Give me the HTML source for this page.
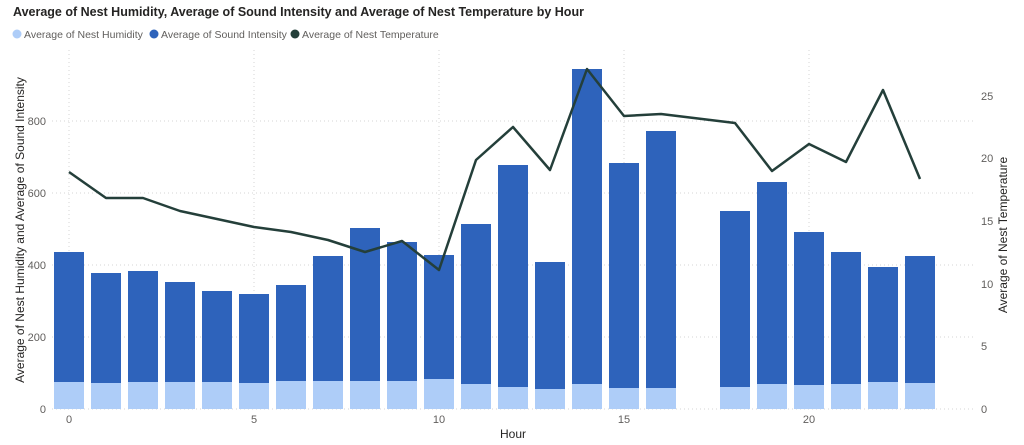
<!DOCTYPE html>
<html><head><meta charset="utf-8"><style>
body{margin:0;background:#fff;}
svg{display:block;font-family:"Liberation Sans",sans-serif;}
</style></head><body>
<svg width="1024" height="445" viewBox="0 0 1024 445">
<rect width="1024" height="445" fill="#fff"/>
<text x="13" y="16" font-size="12.5" font-weight="bold" fill="#252423">Average of Nest Humidity, Average of Sound Intensity and Average of Nest Temperature by Hour</text>
<g font-size="10.5" fill="#605e5c">
<circle cx="17" cy="34" r="4.5" fill="#aecdf8"/><text x="24" y="38">Average of Nest Humidity</text>
<circle cx="154" cy="34" r="4.5" fill="#2e63bb"/><text x="161" y="38">Average of Sound Intensity</text>
<circle cx="295" cy="34" r="4.5" fill="#243f3a"/><text x="302" y="38">Average of Nest Temperature</text>
</g>
<g stroke="#d6d6d6" stroke-dasharray="1,3" stroke-width="1">
<line x1="52" y1="121" x2="973" y2="121"/><line x1="52" y1="193" x2="973" y2="193"/>
<line x1="52" y1="265" x2="973" y2="265"/><line x1="52" y1="337" x2="973" y2="337"/>
<line x1="52" y1="409" x2="973" y2="409"/>
<line x1="69" y1="50" x2="69" y2="409"/><line x1="254" y1="50" x2="254" y2="409"/>
<line x1="439" y1="50" x2="439" y2="409"/><line x1="624" y1="50" x2="624" y2="409"/>
<line x1="809" y1="50" x2="809" y2="409"/>
</g>
<g id="bars"></g>
<g font-size="11" fill="#605e5c" text-anchor="end">
<text x="46" y="413">0</text><text x="46" y="341">200</text><text x="46" y="269">400</text><text x="46" y="197">600</text><text x="46" y="125">800</text>
</g>
<g font-size="11" fill="#605e5c">
<text x="981" y="413">0</text><text x="981" y="350">5</text><text x="981" y="288">10</text><text x="981" y="225">15</text><text x="981" y="162">20</text><text x="981" y="100">25</text>
</g>
<g font-size="11" fill="#605e5c" text-anchor="middle">
<text x="69" y="423">0</text><text x="254" y="423">5</text><text x="439" y="423">10</text><text x="624" y="423">15</text><text x="809" y="423">20</text>
</g>
<text x="513" y="438" font-size="12" fill="#252423" text-anchor="middle">Hour</text>
<text transform="translate(24,230) rotate(-90)" font-size="12" fill="#252423" text-anchor="middle">Average of Nest Humidity and Average of Sound Intensity</text>
<text transform="translate(1007,235) rotate(-90)" font-size="12" fill="#252423" text-anchor="middle">Average of Nest Temperature</text>
<polyline id="ln" fill="none" stroke="#243f3a" stroke-width="2.5" stroke-linejoin="round"/>
</svg>
<script>
var tops=[252,273,271,282,291,294,285,256,228,242,255,224,165,262,69,163,131,null,211,182,232,252,267,256];
var lt=[382,383,382,382,382,383,381,381,381,381,379,384,387,389,384,388,388,null,387,384,385,384,382,383];
var ly=[172,198,198,211,219,227,232,240,252,241,270,160,127,170,69,116,114,null,123,171,144,162,90,179];
var g=document.getElementById('bars'),s='',pts=[];
for(var h=0;h<24;h++){var x=54+37*h;
if(tops[h]!==null){s+='<rect x="'+x+'" y="'+tops[h]+'" width="30" height="'+(lt[h]-tops[h])+'" fill="#2e63bb"/>';
s+='<rect x="'+x+'" y="'+lt[h]+'" width="30" height="'+(409-lt[h])+'" fill="#aecdf8"/>';}
if(ly[h]!==null)pts.push((69+37*h)+','+ly[h]);}
g.innerHTML=s;document.getElementById('ln').setAttribute('points',pts.join(' '));
</script>
</body></html>
